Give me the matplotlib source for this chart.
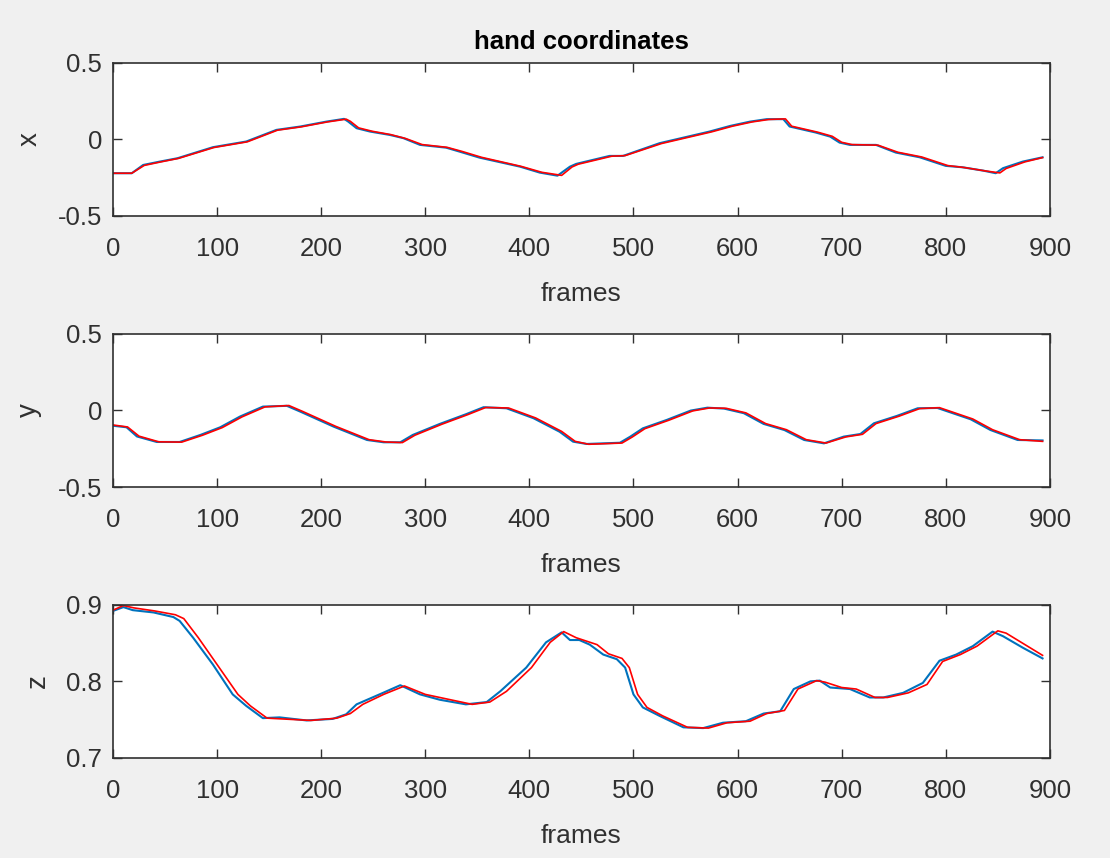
import matplotlib
matplotlib.use("Agg")
import matplotlib.pyplot as plt

# hand coordinates (frames / value)
x_frames_blue = [0, 18, 29, 45, 62, 96, 128, 157, 180, 205, 222, 226, 234, 247, 266, 279, 295,
                 320, 333, 352, 391, 410, 427, 439, 445, 477, 490, 525, 573, 593, 612, 628, 644,
                 650, 675, 689, 698, 708, 733, 752, 775, 800, 816, 836, 848, 855, 874, 893]
x_blue = [-0.221, -0.221, -0.167, -0.145, -0.123, -0.051, -0.014, 0.062, 0.084, 0.116, 0.134,
          0.116, 0.073, 0.051, 0.029, 0.008, -0.036, -0.054, -0.080, -0.119, -0.178, -0.217,
          -0.237, -0.178, -0.160, -0.108, -0.108, -0.025, 0.051, 0.088, 0.116, 0.132, 0.132,
          0.084, 0.045, 0.018, -0.021, -0.036, -0.036, -0.086, -0.117, -0.173, -0.182, -0.204,
          -0.221, -0.188, -0.145, -0.117]
x_frames_red = [0, 18, 30, 46, 63, 97, 129, 158, 181, 206, 224, 228, 236, 249, 267, 281, 297,
                321, 335, 354, 392, 412, 431, 441, 447, 479, 492, 527, 575, 595, 614, 630, 646,
                652, 677, 691, 700, 710, 735, 754, 777, 802, 818, 838, 852, 858, 876, 893]
x_red = [-0.221, -0.221, -0.170, -0.147, -0.124, -0.053, -0.016, 0.060, 0.082, 0.114, 0.132,
         0.118, 0.075, 0.053, 0.031, 0.006, -0.034, -0.052, -0.078, -0.117, -0.176, -0.215,
         -0.235, -0.180, -0.162, -0.110, -0.106, -0.027, 0.049, 0.086, 0.114, 0.130, 0.134,
         0.086, 0.047, 0.020, -0.019, -0.034, -0.038, -0.084, -0.115, -0.171, -0.184, -0.206,
         -0.219, -0.190, -0.147, -0.119]

y_frames_blue = [0, 13, 23, 42, 64, 84, 103, 122, 144, 167, 180, 212, 244, 260, 276, 288, 314,
                 339, 356, 378, 404, 429, 442, 455, 487, 497, 509, 532, 555, 571, 587, 606, 625,
                 645, 664, 683, 702, 718, 731, 753, 773, 792, 805, 824, 843, 869, 893]
y_blue = [-0.100, -0.110, -0.170, -0.206, -0.206, -0.160, -0.110, -0.040, 0.025, 0.030, -0.008,
          -0.106, -0.193, -0.208, -0.208, -0.160, -0.088, -0.025, 0.021, 0.014, -0.051, -0.139,
          -0.204, -0.219, -0.211, -0.171, -0.117, -0.062, -0.001, 0.018, 0.012, -0.018, -0.088,
          -0.128, -0.193, -0.215, -0.171, -0.154, -0.084, -0.036, 0.014, 0.016, -0.014, -0.058,
          -0.128, -0.193, -0.196]
y_frames_red = [0, 14, 25, 44, 66, 86, 105, 124, 146, 169, 182, 214, 246, 262, 278, 290, 316,
                341, 358, 380, 406, 431, 444, 457, 489, 499, 511, 534, 557, 573, 589, 608, 627,
                647, 666, 685, 704, 720, 733, 755, 775, 794, 807, 826, 845, 871, 893]
y_red = [-0.095, -0.108, -0.168, -0.205, -0.207, -0.162, -0.112, -0.042, 0.023, 0.032, -0.006,
         -0.104, -0.191, -0.206, -0.210, -0.162, -0.090, -0.027, 0.019, 0.016, -0.049, -0.137,
         -0.202, -0.221, -0.213, -0.173, -0.119, -0.064, -0.003, 0.016, 0.014, -0.016, -0.086,
         -0.126, -0.191, -0.213, -0.173, -0.156, -0.086, -0.038, 0.012, 0.018, -0.012, -0.056,
         -0.126, -0.191, -0.202]

z_frames_blue = [0, 10, 19, 39, 58, 64, 77, 96, 115, 128, 144, 160, 186, 211, 224, 234, 256,
                 276, 295, 314, 339, 359, 372, 397, 416, 431, 439, 448, 458, 471, 484, 492, 500,
                 509, 525, 548, 567, 586, 608, 625, 641, 654, 670, 679, 689, 708, 727, 740, 759,
                 778, 794, 810, 826, 845, 855, 874, 893]
z_blue = [0.892, 0.897, 0.893, 0.890, 0.884, 0.879, 0.857, 0.822, 0.783, 0.768, 0.752, 0.753,
          0.749, 0.751, 0.757, 0.770, 0.783, 0.795, 0.783, 0.776, 0.770, 0.773, 0.787, 0.818,
          0.851, 0.864, 0.854, 0.854, 0.848, 0.835, 0.829, 0.818, 0.783, 0.766, 0.755, 0.740,
          0.739, 0.746, 0.748, 0.758, 0.761, 0.790, 0.800, 0.801, 0.792, 0.790, 0.779, 0.779,
          0.785, 0.798, 0.827, 0.835, 0.846, 0.865, 0.859, 0.844, 0.830]
z_frames_red = [0, 10, 20, 40, 60, 68, 82, 100, 120, 132, 148, 190, 215, 228, 240, 260, 280,
                300, 345, 362, 378, 402, 420, 433, 445, 465, 476, 489, 496, 504, 513, 528, 552,
                572, 590, 612, 628, 645, 658, 676, 684, 700, 714, 732, 744, 764, 782, 797, 814,
                830, 850, 858, 893]
z_red = [0.893, 0.899, 0.896, 0.892, 0.887, 0.882, 0.857, 0.822, 0.783, 0.768, 0.752, 0.749,
         0.752, 0.758, 0.770, 0.783, 0.794, 0.783, 0.770, 0.773, 0.787, 0.818, 0.851, 0.865,
         0.857, 0.848, 0.836, 0.830, 0.818, 0.783, 0.766, 0.755, 0.740, 0.739, 0.746, 0.748,
         0.758, 0.762, 0.790, 0.801, 0.799, 0.792, 0.790, 0.779, 0.779, 0.785, 0.796, 0.826,
         0.835, 0.846, 0.866, 0.863, 0.834]

panels = [
    ("x", x_frames_blue, x_blue, x_frames_red, x_red, (-0.5, 0.5), [-0.5, 0, 0.5], ["-0.5", "0", "0.5"]),
    ("y", y_frames_blue, y_blue, y_frames_red, y_red, (-0.5, 0.5), [-0.5, 0, 0.5], ["-0.5", "0", "0.5"]),
    ("z", z_frames_blue, z_blue, z_frames_red, z_red, (0.7, 0.9), [0.7, 0.8, 0.9], ["0.7", "0.8", "0.9"]),
]
x_ticks = [0, 100, 200, 300, 400, 500, 600, 700, 800, 900]

plt.rcParams['font.family'] = ['Liberation Sans', 'DejaVu Sans']
txt = '#303030'

fig = plt.figure(figsize=(11.1, 8.58), dpi=100, facecolor='#f0f0f0')
bottoms = [0.7483, 0.4324, 0.1166]
for (lab, fb, vb, fr, vr, ylim, yt, ytl), b in zip(panels, bottoms):
    ax = fig.add_axes([0.1018, b, 0.844, 0.1785])
    ax.plot(fb, vb, color='#0072BD', lw=1.5)
    ax.plot(fr, vr, color='#FF0000', lw=1.2)
    ax.set_xlim(0, 900)
    ax.set_ylim(*ylim)
    ax.set_xticks(x_ticks)
    ax.set_yticks(yt)
    ax.set_yticklabels(ytl)
    ax.tick_params(direction='in', length=6.5, width=1.0, colors=txt, labelsize=18.5,
                   top=True, right=True)
    ax.tick_params(axis='x', pad=15)
    ax.tick_params(axis='y', pad=8)
    for s in ax.spines.values():
        s.set_color(txt)
        s.set_linewidth(1.2)
    ax.set_xlabel('frames', fontsize=19, color=txt, labelpad=15)
    ax.set_ylabel(lab, fontsize=20, color=txt, labelpad=11)
    if lab == 'x':
        ax.set_title('hand coordinates', fontsize=18.5, fontweight='bold', color='black', pad=10)

fig.savefig('out.png', dpi=100, facecolor=fig.get_facecolor())
